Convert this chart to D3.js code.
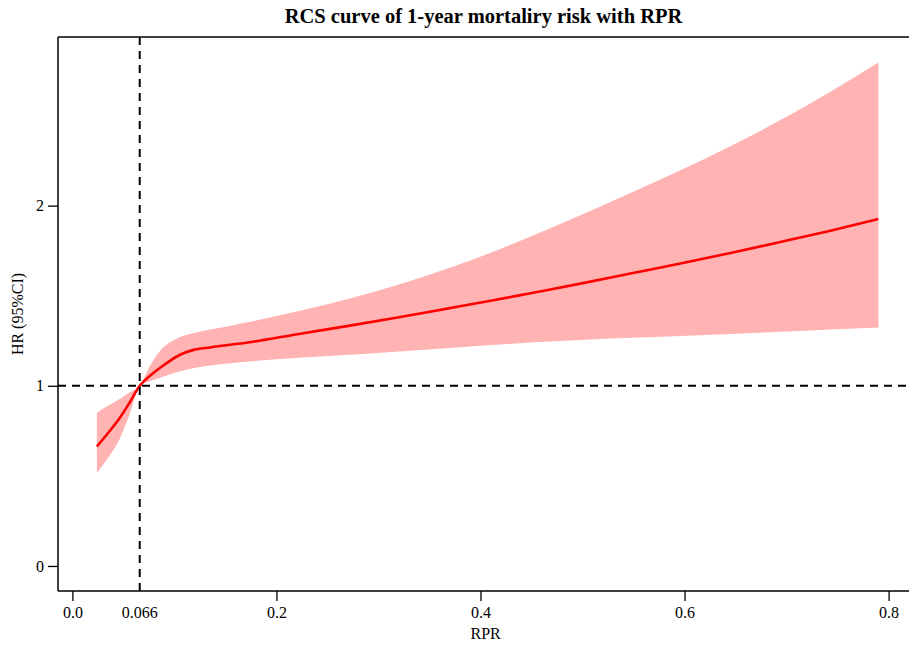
<!DOCTYPE html>
<html lang="en">
<head>
    <meta charset="UTF-8">
    <title>RCS curve of 1-year mortaliry risk with RPR</title>
    <script src="https://d3js.org/d3.v7.min.js"></script>
    <style>
        body { margin: 0; background: #fff; }
        svg { display: block; font-family: "Liberation Serif", "Times New Roman", serif; }
        .title { font-size: 20.5px; font-weight: bold; }
        .tick text { font-size: 16px; font-family: "Liberation Serif", serif; }
        .axis-label { font-size: 16px; }
    </style>
</head>
<body>
    <svg width="909" height="646"></svg>

    <script>
        // RPR values and HR estimates
        const rpr   = [0.024, 0.035, 0.046, 0.056, 0.066, 0.076, 0.086, 0.096, 0.105, 0.118, 0.135, 0.155, 0.174,
                       0.222, 0.272, 0.32, 0.37, 0.41, 0.449, 0.498, 0.547, 0.596, 0.645, 0.694, 0.743, 0.79];
        const hr    = [0.663, 0.738, 0.818, 0.906, 1.0, 1.055, 1.10, 1.14, 1.171, 1.198, 1.213, 1.228, 1.242,
                       1.288, 1.334, 1.38, 1.431, 1.472, 1.514, 1.567, 1.623, 1.679, 1.737, 1.798, 1.861, 1.926];
        const lower = [0.517, 0.60, 0.70, 0.84, 1.0, 1.025, 1.045, 1.064, 1.079, 1.098, 1.113, 1.125, 1.135,
                       1.155, 1.172, 1.19, 1.21, 1.226, 1.24, 1.254, 1.266, 1.277, 1.288, 1.30, 1.313, 1.324];
        const upper = [0.85, 0.89, 0.926, 0.963, 1.0, 1.11, 1.195, 1.243, 1.27, 1.292, 1.312, 1.333, 1.355,
                       1.415, 1.485, 1.562, 1.655, 1.738, 1.829, 1.947, 2.07, 2.197, 2.33, 2.475, 2.632, 2.794];
        const xTicks = [0, 0.2, 0.4, 0.6, 0.8];
        const yTicks = [0, 1, 2];
        const refX = 0.066;
        const refY = 1;

        const points = rpr.map((x, i) => ({x: x, hr: hr[i], lo: lower[i], hi: upper[i]}));

        const svg = d3.select("svg"),
            margin = {top: 37, right: 0, bottom: 55, left: 58},
            width = +svg.attr("width") - margin.left - margin.right,
            height = +svg.attr("height") - margin.top - margin.bottom,
            g = svg.append("g").attr("transform", `translate(${margin.left},${margin.top})`);

        const x = d3.scaleLinear().domain([-0.0141, 0.82]).range([0, width]);
        const y = d3.scaleLinear().domain([-0.139, 2.936]).range([height, 0]);

        // confidence band
        g.append("path")
            .datum(points)
            .attr("fill", "#ffb3b3")
            .attr("d", d3.area()
                .x(d => x(d.x))
                .y0(d => y(d.lo))
                .y1(d => y(d.hi))
                .curve(d3.curveMonotoneX));

        // HR curve
        g.append("path")
            .datum(points)
            .attr("fill", "none")
            .attr("stroke", "#ff0000")
            .attr("stroke-width", 2.6)
            .attr("d", d3.line()
                .x(d => x(d.x))
                .y(d => y(d.hr))
                .curve(d3.curveMonotoneX));

        // reference lines
        g.append("line")
            .attr("x1", 0).attr("x2", width)
            .attr("y1", y(refY)).attr("y2", y(refY))
            .attr("stroke", "#000").attr("stroke-width", 2)
            .attr("stroke-dasharray", "8,6");
        g.append("line")
            .attr("x1", x(refX)).attr("x2", x(refX))
            .attr("y1", 0).attr("y2", height)
            .attr("stroke", "#000").attr("stroke-width", 2)
            .attr("stroke-dasharray", "8,6");

        // frame (top and bottom lines run to the edge)
        g.append("line").attr("x1", 0).attr("x2", width + 2).attr("y1", 0).attr("y2", 0)
            .attr("stroke", "#000").attr("stroke-width", 1.5);

        const xAxis = g.append("g")
            .attr("transform", `translate(0,${height})`)
            .call(d3.axisBottom(x).tickValues(xTicks).tickFormat(d3.format(".1f")).tickSize(10).tickPadding(6));
        xAxis.select(".domain").attr("d", `M0,0H${width + 2}`).attr("stroke-width", 1.5);
        xAxis.selectAll(".tick line").attr("stroke-width", 1.3);

        // label for the reference value, no tick mark
        g.append("text")
            .attr("x", x(refX))
            .attr("y", height + 16)
            .attr("dy", "0.71em")
            .attr("text-anchor", "middle")
            .style("font-size", "16px")
            .text(refX.toFixed(3));

        const yAxis = g.append("g")
            .call(d3.axisLeft(y).tickValues(yTicks).tickFormat(d3.format("d")).tickSize(10).tickPadding(4));
        yAxis.select(".domain").attr("d", `M0,0V${height}`).attr("stroke-width", 1.5);
        yAxis.selectAll(".tick line").attr("stroke-width", 1.3);

        svg.append("text")
            .attr("class", "title")
            .attr("x", margin.left + width / 2)
            .attr("y", 23)
            .attr("text-anchor", "middle")
            .text("RCS curve of 1-year mortaliry risk with RPR");

        svg.append("text")
            .attr("class", "axis-label")
            .attr("x", margin.left + x(0.405))
            .attr("y", 639)
            .attr("text-anchor", "middle")
            .text("RPR");

        svg.append("text")
            .attr("class", "axis-label")
            .attr("transform", `translate(23,${margin.top + height / 2}) rotate(-90)`)
            .attr("text-anchor", "middle")
            .text("HR (95%CI)");
    </script>
</body>
</html>
